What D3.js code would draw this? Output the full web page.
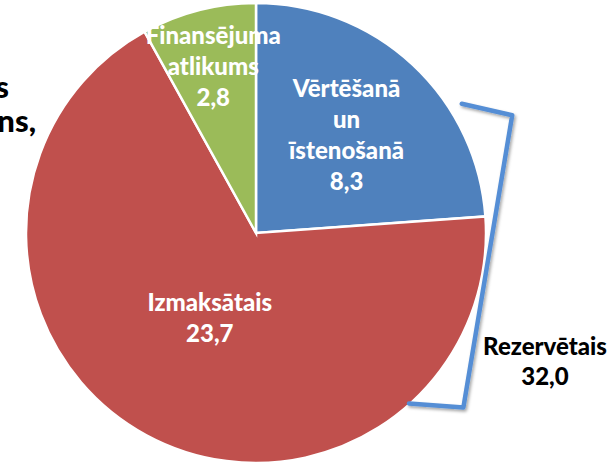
<!DOCTYPE html>
<html>
<head>
<meta charset="utf-8">
<script src="https://cdn.jsdelivr.net/npm/d3@7"></script>
<style>
  body { margin: 0; background: #fff; }
  svg { display: block; }
  text { font-family: Lato, "Open Sans", sans-serif; font-weight: 900; }
</style>
</head>
<body>
<div class="d3-chart"></div>
<script>
// data
const categories = [["Vērtēšanā", "un", "īstenošanā"], ["Izmaksātais"], ["Finansējuma", "atlikums"]];
const values = [8.3, 23.7, 2.8];
const colors = ["#4F81BD", "#C0504D", "#9BBB59"];
const reservedLabel = "Rezervētais";
const reservedValue = values[0] + values[1];   // 32,0
const titleTails = ["s", "ns,"];               // cut-off title on the left

const width = 610, height = 462;
const cx = 256, cy = 233, radius = 230;
const labelRadius = [133, 97, 171];
const fmt = v => d3.format(".1f")(v).replace(".", ",");

const svg = d3.select(".d3-chart")
  .append("svg")
  .attr("width", width)
  .attr("height", height);

const defs = svg.append("defs");
const shadow = defs.append("filter").attr("id", "shadow")
  .attr("x", "-20%").attr("y", "-20%").attr("width", "140%").attr("height", "140%");
shadow.append("feDropShadow")
  .attr("dx", 1.5).attr("dy", 2).attr("stdDeviation", 1.5)
  .attr("flood-color", "#000").attr("flood-opacity", 0.35);

const g = svg.append("g").attr("transform", `translate(${cx}, ${cy})`);

const pie = d3.pie().sort(null).value(d => d);
const arcs = pie(values);
const arc = d3.arc().innerRadius(0).outerRadius(radius);

g.selectAll("path.slice")
  .data(arcs)
  .join("path")
  .attr("class", "slice")
  .attr("d", arc)
  .attr("fill", (d, i) => colors[i])
  .attr("stroke", "#fff")
  .attr("stroke-width", 2.5);

// slice labels
arcs.forEach((d, i) => {
  const mid = (d.startAngle + d.endAngle) / 2;
  const [x, y] = d3.pointRadial(mid, labelRadius[i]);
  const lines = categories[i].concat([fmt(values[i])]);
  const lh = 31;
  const t = g.append("text")
    .attr("fill", "#fff")
    .attr("font-size", 24)
    .attr("text-anchor", "middle");
  lines.forEach((l, k) => {
    t.append("tspan")
      .attr("x", x)
      .attr("y", y + (k - (lines.length - 1) / 2) * lh + 8)
      .text(l);
  });
});

// bracket around the reserved part (blue + red)
const span0 = arcs[0].startAngle;
const bracket = [
  [span0 + 1.01, radius + 13],
  [span0 + 1.14, radius + 52],
  [span0 + 2.27, radius + 41],
  [span0 + 2.41, radius - 1]
].map(([a, r]) => d3.pointRadial(a, r));

g.append("path")
  .attr("d", d3.line()(bracket))
  .attr("fill", "none")
  .attr("stroke", "#558ED5")
  .attr("stroke-width", 4.5)
  .attr("stroke-linejoin", "round")
  .attr("stroke-linecap", "round")
  .attr("filter", "url(#shadow)");

const rz = svg.append("text")
  .attr("fill", "#000")
  .attr("font-size", 24)
  .attr("text-anchor", "middle");
rz.append("tspan").attr("x", 545).attr("y", 355).text(reservedLabel);
rz.append("tspan").attr("x", 545).attr("y", 385).text(fmt(reservedValue));

// truncated title on the left edge
svg.append("text").attr("x", 9).attr("y", 98)
  .attr("text-anchor", "end").attr("font-size", 31).text(titleTails[0]);
svg.append("text").attr("x", 36).attr("y", 132)
  .attr("text-anchor", "end").attr("font-size", 31).text(titleTails[1]);
</script>
</body>
</html>
